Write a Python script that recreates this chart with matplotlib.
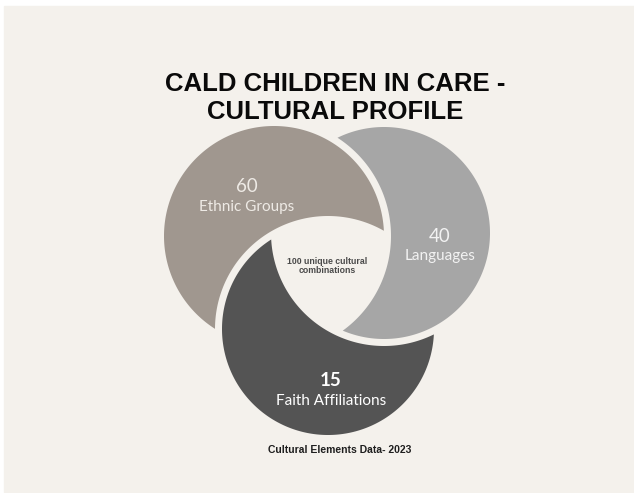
"""
CALD children in care - cultural profile, drawn as three interlocking
crescents (pinwheel Venn) with the shared count in the middle hole.
"""
import numpy as np
import matplotlib.pyplot as plt
from matplotlib.patches import Rectangle

# data
categories = ["Ethnic Groups", "Languages", "Faith Affiliations"]
counts = [60, 40, 15]
center_count = 100
center_label = "unique cultural\ncombinations"
title = "CALD CHILDREN IN CARE -\nCULTURAL PROFILE"
footer = "Cultural Elements Data- 2023"

BG = "#f4f1ec"
colors = ["#a0978f", "#a6a6a6", "#545454"]

# circle layout in pixel coords (x, y from top), radius
centers = [(274, 236), (384, 233), (328, 329)]
radii = [110, 106, 106]
GAP = 7


def crescent(c1, r1, c2, r2, n=300):
    """Outline of circle (c1, r1) minus circle (c2, r2)."""
    c1, c2 = np.asarray(c1, float), np.asarray(c2, float)
    d = np.hypot(*(c2 - c1))
    a = (r1 ** 2 - r2 ** 2 + d ** 2) / (2 * d)
    h = np.sqrt(r1 ** 2 - a ** 2)
    phi = np.arctan2(c2[1] - c1[1], c2[0] - c1[0])
    alpha = np.arctan2(h, a)
    beta = np.arctan2(h, d - a)
    t1 = np.linspace(phi + alpha, phi + 2 * np.pi - alpha, n)
    arc1 = c1 + r1 * np.column_stack([np.cos(t1), np.sin(t1)])
    t2 = np.linspace(phi + np.pi + beta, phi + np.pi - beta, n)
    arc2 = c2 + r2 * np.column_stack([np.cos(t2), np.sin(t2)])
    return np.vstack([arc1, arc2])


fig = plt.figure(figsize=(6.34, 4.93), dpi=100, facecolor="white")
ax = fig.add_axes([0, 0, 1, 1])
ax.set_xlim(0, 634)
ax.set_ylim(493, 0)
ax.axis("off")

ax.add_patch(Rectangle((4, 6), 630, 486, color=BG, zorder=0))

# each piece = own circle minus the next circle in the cycle (tan<-dark, gray<-tan, dark<-gray)
nxt = {0: 2, 1: 0, 2: 1}
for i in range(3):
    j = nxt[i]
    pts = crescent(centers[i], radii[i], centers[j], radii[j] + GAP)
    ax.fill(pts[:, 0], pts[:, 1], color=colors[i], lw=0, zorder=2)

# labels
label_pos = [(247, 187), (440, 236), (331, 381)]
num_color = ["#eeeae5", "#f2f2f2", "#ffffff"]
for k in range(3):
    x, y = label_pos[k]
    ax.text(x, y, str(counts[k]), ha="center", va="center", fontsize=13.5,
            family="Lato", fontweight="bold" if k == 2 else "normal",
            color=num_color[k], zorder=3)
    ax.text(x, y + 20, categories[k], ha="center", va="center", fontsize=11,
            family="Lato", color=num_color[k], zorder=3)

ax.text(327, 266, f"{center_count} {center_label}", ha="center", va="center",
        fontsize=6.3, family="Liberation Sans", fontweight="bold",
        color="#4a4a4a", linespacing=1.1, zorder=3)

ax.text(335, 98, title, ha="center", va="center", fontsize=18.5,
        family="Liberation Sans", fontweight="bold", color="#0a0a0a",
        linespacing=1.25)

ax.text(340, 450, footer, ha="center", va="center", fontsize=7.5,
        family="Liberation Sans", fontweight="bold", color="#1e1e1e")

fig.savefig("out.png", dpi=100, facecolor=fig.get_facecolor())
